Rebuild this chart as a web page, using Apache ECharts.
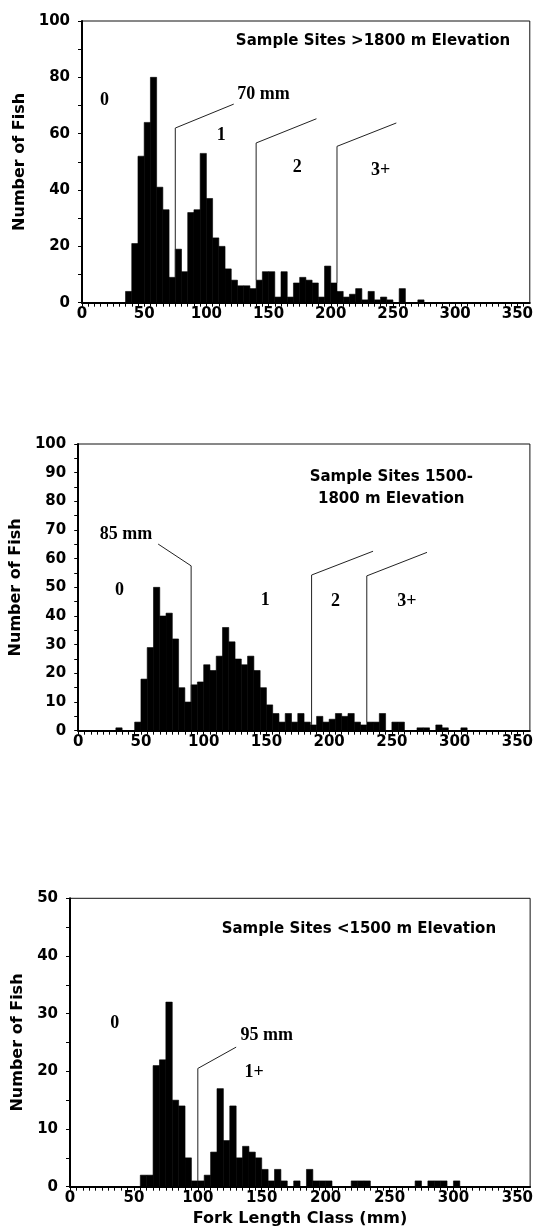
<!DOCTYPE html>
<html><head><meta charset="utf-8">
<script src="https://cdn.jsdelivr.net/npm/echarts@6/dist/echarts.min.js"></script>
<style>html,body{margin:0;padding:0;background:#fff}#c{width:536px;height:1230px}</style>
</head><body><div id="c"></div>
<script>
// ---- data (fork length class start, mm; count of fish) ----
const binWidth = 5;
const p1Lengths = [35,40,45,50,55,60,65,70,75,80,85,90,95,100,105,110,115,120,125,130,135,140,145,150,155,160,165,170,175,180,185,190,195,200,205,210,215,220,225,230,235,240,245,250,255,260,265,270];
const p1Counts  = [4,21,52,64,80,41,33,9,19,11,32,33,53,37,23,20,12,8,6,6,5,8,11,11,2,11,2,7,9,8,7,2,13,7,4,2,3,5,1,4,1,2,1,0,5,0,0,1];

const p2Lengths = [30,35,40,45,50,55,60,65,70,75,80,85,90,95,100,105,110,115,120,125,130,135,140,145,150,155,160,165,170,175,180,185,190,195,200,205,210,215,220,225,230,235,240,245,250,255,260,265,270,275,280,285,290,295,300,305];
const p2Counts  = [1,0,0,3,18,29,50,40,41,32,15,10,16,17,23,21,26,36,31,25,23,26,21,15,9,6,3,6,3,6,3,2,5,3,4,6,5,6,3,2,3,3,6,0,3,3,0,0,1,1,0,2,1,0,0,1];

const p3Lengths = [55,60,65,70,75,80,85,90,95,100,105,110,115,120,125,130,135,140,145,150,155,160,165,170,175,180,185,190,195,200,205,210,215,220,225,230,235,240,245,250,255,260,265,270,275,280,285,290,295,300];
const p3Counts  = [2,2,21,22,32,15,14,5,1,1,2,6,17,8,14,5,7,6,5,3,1,3,1,0,1,0,3,1,1,1,0,0,0,1,1,1,0,0,0,0,0,0,0,1,0,1,1,1,0,1];

// age-class cut lines (data coords: mm, count)
const p1Cuts = [[[75,9],[75,62],[122,70.5]], [[140,8],[140,56.7],[188.5,65.3]], [[205,7],[205,55.5],[252.7,63.8]]];
const p2Cuts = [[[63.7,65.1],[90,57.5],[90,10]], [[186,2],[186,54.3],[235,62.6]], [[230,3],[230,54],[278,62.2]]];
const p3Cuts = [[[130,24.2],[100,20.5],[100,1]]];

// labels [text, mm, count]
const p1Labels = [['0',18,72],['1',112,59.5],['2',173,48],['3+',240,47],['70 mm',146,74]];
const p2Labels = [['0',33,49],['1',149,45.6],['2',205,45.2],['3+',262,45.2],['85 mm',38,68.6]];
const p3Labels = [['0',35,28.3],['95 mm',154,26.3],['1+',144,19.8]];

const p1Title = ['Sample Sites >1800 m Elevation', 234, 93];
const p2Title = ['Sample Sites 1500-\n1800 m Elevation', 249.5, 84.5];
const p3Title = ['Sample Sites <1500 m Elevation', 226, 44.7];

const yMax = [100, 100, 50];
const yLabelStep = [20, 10, 10];
const yTickStep = [10, 5, 5];
const xMax = 360, xLabelStep = 50, xTickStep = 5;
const yName = 'Number of Fish';
const xName = 'Fork Length Class (mm)';

// ---- layout ----
const grids = [
  {left: 82, right: 2, top: 21, height: 281.7},
  {left: 78, right: 2, top: 444, height: 286.7},
  {left: 70, right: 2, top: 898.3, height: 288.4}
];
const nameGaps = [54, 50, 42];

const SANS = 'DejaVu Sans';
const SERIF = 'Liberation Serif';

const panels = [
  {L: p1Lengths, C: p1Counts, cuts: p1Cuts, labels: p1Labels, title: p1Title},
  {L: p2Lengths, C: p2Counts, cuts: p2Cuts, labels: p2Labels, title: p2Title},
  {L: p3Lengths, C: p3Counts, cuts: p3Cuts, labels: p3Labels, title: p3Title}
];

function barItem(params, api) {
  const x0 = api.value(0), c = api.value(1);
  const a = api.coord([x0, 0]);
  const b = api.coord([x0 + binWidth, c]);
  return {type: 'rect', shape: {x: a[0], y: b[1], width: b[0] - a[0], height: a[1] - b[1]},
          style: {fill: '#000', stroke: '#000', lineWidth: 0.6}};
}
function textItem(texts, font, lineHeight) {
  return function (params, api) {
    const p = api.coord([api.value(0), api.value(1)]);
    return {type: 'text', x: p[0], y: p[1],
            style: {text: texts[params.dataIndex], font: font, fill: '#000', align: 'center',
                    verticalAlign: 'middle', lineHeight: lineHeight}};
  };
}

const option = {animation: false, backgroundColor: '#fff', grid: [], xAxis: [], yAxis: [], series: []};

panels.forEach((p, i) => {
  option.grid.push(Object.assign({show: true, borderColor: '#111', borderWidth: 1, containLabel: false}, grids[i]));
  option.xAxis.push({
    type: 'value', gridIndex: i, min: 0, max: xMax, interval: xTickStep,
    name: i === 2 ? xName : '', nameLocation: 'middle', nameGap: 24,
    nameTextStyle: {fontFamily: SANS, fontWeight: 'bold', fontSize: 16, color: '#000'},
    axisLine: {show: true, onZero: false, lineStyle: {color: '#000', width: 2}},
    axisTick: {show: true, length: 4, lineStyle: {color: '#000', width: 1}},
    splitLine: {show: false},
    axisLabel: {margin: 4, color: '#000', fontFamily: SANS, fontWeight: 'bold', fontSize: 15,
      showMaxLabel: false,
      formatter: v => (v % xLabelStep === 0 && v <= 350) ? String(v) : ''}
  });
  option.yAxis.push({
    type: 'value', gridIndex: i, min: 0, max: yMax[i], interval: yTickStep[i],
    name: yName, nameLocation: 'middle', nameGap: nameGaps[i],
    nameTextStyle: {fontFamily: SANS, fontWeight: 'bold', fontSize: 16, color: '#000'},
    axisLine: {show: true, lineStyle: {color: '#000', width: 2}},
    axisTick: {show: true, length: 4, lineStyle: {color: '#000', width: 1}},
    splitLine: {show: false},
    axisLabel: {margin: 12, color: '#000', fontFamily: SANS, fontWeight: 'bold', fontSize: 15,
      formatter: v => (v % yLabelStep[i] === 0) ? String(v) : ''}
  });
  option.series.push({
    type: 'custom', xAxisIndex: i, yAxisIndex: i, silent: true, z: 2,
    renderItem: barItem, encode: {x: 0, y: 1},
    data: p.L.map((l, k) => [l, p.C[k]]).filter(d => d[1] > 0)
  });
  p.cuts.forEach(cut => {
    option.series.push({
      type: 'line', xAxisIndex: i, yAxisIndex: i, silent: true, z: 3,
      symbol: 'none', lineStyle: {color: '#222', width: 1}, data: cut
    });
  });
  option.series.push({
    type: 'custom', xAxisIndex: i, yAxisIndex: i, silent: true, z: 4,
    renderItem: textItem(p.labels.map(l => l[0]), 'bold 18px "' + SERIF + '"', 20), encode: {x: 0, y: 1},
    data: p.labels.map(l => [l[1], l[2]])
  });
  option.series.push({
    type: 'custom', xAxisIndex: i, yAxisIndex: i, silent: true, z: 4,
    renderItem: textItem([p.title[0]], 'bold 15px "' + SANS + '"', 22), encode: {x: 0, y: 1},
    data: [[p.title[1], p.title[2]]]
  });
});

const chart = echarts.init(document.getElementById('c'), null, {renderer: 'canvas'});
chart.setOption(option);
</script>
</body></html>
